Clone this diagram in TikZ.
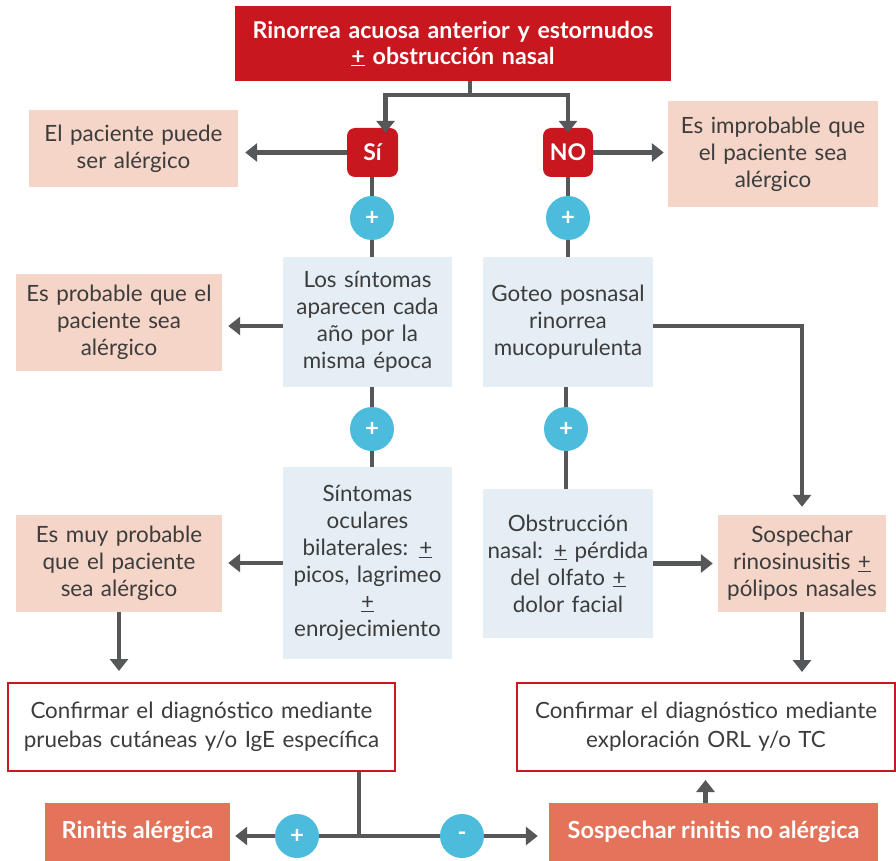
\documentclass[tikz,border=0pt]{standalone}
\usepackage{fontspec}
\setmainfont{Lato}
\usetikzlibrary{arrows.meta}
\definecolor{rojo}{HTML}{C8171E}
\definecolor{rosa}{HTML}{F5D5C8}
\definecolor{celeste}{HTML}{E5EEF5}
\definecolor{azul}{HTML}{4CBCDD}
\definecolor{naranja}{HTML}{E3735B}
\definecolor{gris}{HTML}{555759}
\definecolor{txt}{HTML}{3C3C3C}
\newcommand{\pmu}{\underline{+}}
\begin{document}
\begin{tikzpicture}[x=1pt,y=-1pt,
  base/.style={inner sep=0pt, align=center, font=\fontsize{22.4}{27}\selectfont, text=txt},
  pbox/.style={base, fill=rosa},
  bbox/.style={base, fill=celeste},
  rbox/.style={base, fill=rojo, text=white, font=\fontsize{23.2}{26}\selectfont\bfseries},
  obox/.style={base, fill=naranja, text=white, font=\fontsize{23.5}{26}\selectfont\bfseries},
  wbox/.style={base, fill=white, draw=rojo, line width=2pt, font=\fontsize{22.4}{29}\selectfont},
  dec/.style={base, fill=rojo, text=white, rounded corners=8pt, font=\fontsize{23}{26}\selectfont\bfseries},
  circ/.style={circle, fill=azul, minimum size=44pt, inner sep=0pt, text=white, font=\fontsize{24}{24}\selectfont\bfseries},
  ln/.style={draw=gris, line width=4.8pt},
  ar/.style={ln, -{Triangle[width=18pt,length=12pt]}}
]
\useasboundingbox[fill=white] (0,0) rectangle (896,861);

% boxes
\node[rbox, minimum width=436pt, minimum height=75pt, text width=430pt] (top) at (453,43.5)
  {Rinorrea acuosa anterior y estornudos\\\pmu{} obstrucción nasal};
\node[dec, minimum width=51pt, minimum height=49pt] (si) at (372.5,152.5) {Sí};
\node[dec, minimum width=50pt, minimum height=49pt] (no) at (568,152.5) {NO};
\node[pbox, minimum width=209pt, minimum height=77pt, text width=203pt] (p1) at (133.5,148.5)
  {El paciente puede\\ser alérgico};
\node[pbox, minimum width=210pt, minimum height=106pt, text width=204pt] (p2) at (773,154)
  {Es improbable que\\el paciente sea\\alérgico};
\node[circ] (c1) at (372,218) {+};
\node[circ] (c2) at (568,218) {+};
\node[bbox, minimum width=169pt, minimum height=130pt, text width=165pt] (los) at (367.5,322)
  {Los síntomas\\aparecen cada\\año por la\\misma época};
\node[bbox, minimum width=170pt, minimum height=130pt, text width=166pt] (got) at (568,322)
  {Goteo posnasal\\rinorrea\\mucopurulenta\\[8pt]};
\node[pbox, minimum width=206pt, minimum height=97pt, text width=200pt] (p3) at (119,322.5)
  {Es probable que el\\paciente sea\\alérgico};
\node[circ] (c3) at (372,429) {+};
\node[circ] (c4) at (566,429) {+};
\node[bbox, minimum width=169pt, minimum height=192pt, text width=165pt] (ocu) at (367.5,563)
  {Síntomas\\oculares\\bilaterales: \pmu\\picos, lagrimeo\\\pmu\\enrojecimiento};
\node[bbox, minimum width=170pt, minimum height=149pt, text width=166pt] (obs) at (568,563.5)
  {Obstrucción\\nasal: \pmu{} pérdida\\del olfato \pmu\\dolor facial};
\node[pbox, minimum width=206pt, minimum height=97pt, text width=200pt] (p4) at (119,563.5)
  {Es muy probable\\que el paciente\\sea alérgico};
\node[pbox, minimum width=168pt, minimum height=97pt, text width=166pt] (sos) at (802,563.5)
  {Sospechar\\rinosinusitis \pmu\\pólipos nasales};
\node[wbox, minimum width=387pt, minimum height=88pt, text width=380pt] (cf1) at (201.5,727)
  {Confirmar el diagnóstico mediante\\pruebas cutáneas y/o IgE específica};
\node[wbox, minimum width=378pt, minimum height=88pt, text width=370pt] (cf2) at (706,727)
  {Confirmar el diagnóstico mediante\\exploración ORL y/o TC};
\node[obox, minimum width=185pt, minimum height=58pt] (rin) at (137.5,832) {Rinitis alérgica};
\node[obox, minimum width=329pt, minimum height=58pt] (sno) at (713.5,832) {Sospechar rinitis no alérgica};
\node[circ] (c5) at (297,836) {+};
\node[circ] (c6) at (462,836) {-};

% connectors
\coordinate (jt) at (470,95);
\draw[ln] (top.south -| jt) -- (jt);
\draw[ar] (jt) -| ([xshift=13pt,yshift=-5pt]si.north);
\draw[ar] (jt) -| ([yshift=-5pt]no.north);
\draw[ar, shorten >=7pt] (si.west) -- (si.west -| p1.east);
\draw[ar, shorten >=4pt] (no.east) -- (no.east -| p2.west);
\draw[ln] (si.south -| c1) -- (c1.north);
\draw[ln] (no.south -| c2) -- (c2.north);
\draw[ln] (c1.south) -- (c1.south |- los.north);
\draw[ln] (c2.south) -- (c2.south |- got.north);
\draw[ar, shorten >=6pt] ([yshift=-4pt]los.west) -- ([yshift=-4pt]los.west -| p3.east);
\draw[ln] (c3.south |- los.south) -- (c3.north);
\draw[ln] (c3.south) -- (c3.south |- ocu.north);
\draw[ln] (c4.south |- got.south) -- (c4.north);
\draw[ln] (c4.south) -- (c4.south |- obs.north);
\draw[ar, shorten >=8pt] ([yshift=-4pt]got.east) -| (sos.north);
\draw[ar, shorten >=6pt] (ocu.west) -- (ocu.west -| p4.east);
\draw[ar, shorten >=5pt] (obs.east) -- (obs.east -| sos.west);
\draw[ar, shorten >=11pt] (p4.south) -- (p4.south |- cf1.north);
\draw[ar, shorten >=10pt] (sos.south) -- (sos.south |- cf2.north);
\coordinate (jb) at (359,836);
\draw[ln] (cf1.south -| jb) -- (jb);
\draw[ln] (jb) -- (c5.east);
\draw[ar, shorten >=5pt] (c5.west) -- (c5.west -| rin.east);
\draw[ln] (jb) -- (c6.west);
\draw[ar, shorten >=11pt] (c6.east) -- (c6.east -| sno.west);
\draw[ar, shorten >=8pt] ([xshift=-8pt]sno.north) -- ([xshift=-8pt]sno.north |- cf2.south);
\end{tikzpicture}
\end{document}
